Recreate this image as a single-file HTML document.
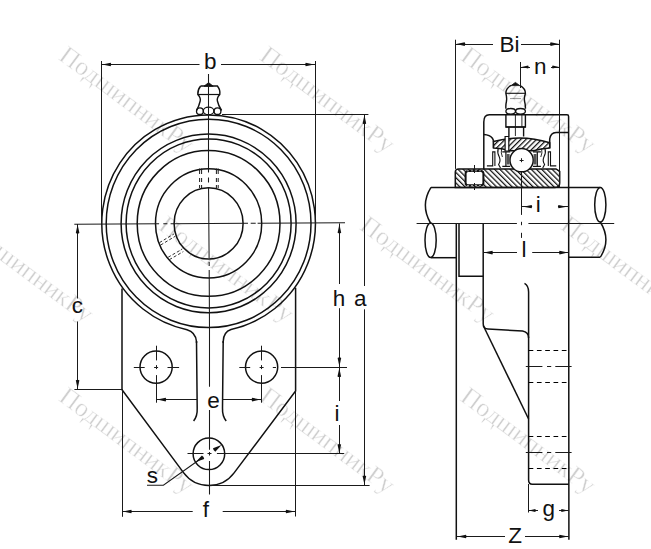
<!DOCTYPE html>
<html><head><meta charset="utf-8">
<style>
html,body{margin:0;padding:0;background:#fff;}
svg{display:block;position:absolute;left:0;top:0;}
.wm{font-family:"Liberation Serif",serif;font-size:26px;fill:#cfcfcf;stroke:#fff;stroke-width:0.45px;}
.t{font-family:"Liberation Sans",sans-serif;font-size:22.5px;fill:#111;}
</style></head>
<body>

<svg width="651" height="549" viewBox="0 0 651 549">
<defs>
<pattern id="hBack" patternUnits="userSpaceOnUse" width="3.7" height="3.7" patternTransform="rotate(-45)">
<rect width="3.7" height="3.7" fill="#fff"/><rect x="0" y="0" width="1.25" height="3.7" fill="#111"/>
</pattern>
<pattern id="hFwd" patternUnits="userSpaceOnUse" width="3.7" height="3.7" patternTransform="rotate(45)">
<rect width="3.7" height="3.7" fill="#fff"/><rect x="0" y="0" width="1.25" height="3.7" fill="#111"/>
</pattern>
</defs>

<g fill="none" stroke="#111" stroke-width="1.5">
<ellipse cx="208.6" cy="223.4" rx="34.5" ry="35.6"/>
<ellipse cx="208.6" cy="223.4" rx="53.1" ry="54.6"/>
<ellipse cx="208.6" cy="223.4" rx="71.4" ry="72.9"/>
<ellipse cx="208.6" cy="223.4" rx="82.5" ry="84.5"/>
<ellipse cx="208.6" cy="223.4" rx="87.5" ry="89.3"/>
<ellipse cx="208.6" cy="223.4" rx="102.4" ry="104.2"/>
<path d="M196.5 343 L196.5 341.5 Q195.5 332 187.0 329.66 A106.8 108.5 0 1 1 231.0 329.49 Q223.4 332 223.2 341.5 L223.2 343"/>
<path d="M196.5 341 L197.2 408 Q197.6 416 193.6 421"/>
<path d="M223.2 341 L222.5 408 Q222.2 416 226.2 421"/>
<path d="M122 288.5 L122 389.8 L183.70 472.90 A31.5 31.5 0 0 0 234.10 472.90 L295.6 391 L295.6 287.7"/>
<circle cx="156.1" cy="367.1" r="16.1"/>
<circle cx="261.6" cy="367.1" r="16.1"/>
<circle cx="208.9" cy="453.8" r="15.8"/>
<path d="M200.6 86 L217.4 86 Q220.5 90 219.8 94.5 Q216.6 98 217.4 101 Q218.5 106 221.6 110.5" stroke-width="1.4"/>
<path d="M200.6 86 Q197.5 90 197.8 94.5 Q201 98 200.2 101 Q199 106 196.6 110.5" stroke-width="1.4"/>
<line x1="197.8" y1="94.5" x2="219.8" y2="94.5" stroke-width="1.2"/>
<ellipse cx="199.9" cy="111.2" rx="3.4" ry="3.3" stroke-width="1.3"/>
<ellipse cx="208.6" cy="110.9" rx="5.3" ry="3.8" stroke-width="1.3"/>
<ellipse cx="217.5" cy="111.2" rx="3.4" ry="3.3" stroke-width="1.3"/>
<path d="M204 86.2 L208.6 82.6 L213.2 86.2 Z" fill="#111" stroke-width="0.8"/>

</g>
<g fill="none" stroke="#1a1a1a" stroke-width="1.05">
<line x1="207.5" y1="453.5" x2="211.5" y2="453.5"/>
<line x1="133.8" y1="367.5" x2="144.7" y2="367.5"/>
<line x1="154.1" y1="367.5" x2="158.1" y2="367.5"/>
<line x1="167.5" y1="367.5" x2="179.1" y2="367.5"/>
<line x1="156.5" y1="345.7" x2="156.5" y2="360.4"/>
<line x1="156.5" y1="365.1" x2="156.5" y2="369.1"/>
<line x1="156.5" y1="375.1" x2="156.5" y2="402.7"/>
<line x1="239.3" y1="367.5" x2="250.2" y2="367.5"/>
<line x1="259.6" y1="367.5" x2="263.6" y2="367.5"/>
<line x1="272.8" y1="367.5" x2="276" y2="367.5"/>
<line x1="281" y1="367.5" x2="347" y2="367.5"/>
<line x1="261.5" y1="345.7" x2="261.5" y2="360.4"/>
<line x1="261.5" y1="365.1" x2="261.5" y2="369.1"/>
<line x1="261.5" y1="375.1" x2="261.5" y2="402.7"/>
<line x1="187.5" y1="453.5" x2="203.5" y2="453.5"/>
<line x1="216.9" y1="453.5" x2="344.2" y2="453.5"/>
<line x1="101.5" y1="61" x2="101.5" y2="224"/>
<line x1="315.5" y1="61" x2="315.5" y2="223.8"/>
<line x1="222" y1="114.5" x2="368.4" y2="114.5"/>
<line x1="74.4" y1="389.5" x2="122" y2="389.5"/>
<line x1="208.9" y1="485.5" x2="369.6" y2="485.5"/>
<line x1="122.5" y1="389" x2="122.5" y2="516.8"/>
<line x1="295.5" y1="391" x2="295.5" y2="516.5"/>
<line x1="101.3" y1="64.5" x2="199.5" y2="64.5"/>
<line x1="221" y1="64.5" x2="315.1" y2="64.5"/>
<line x1="77.5" y1="224" x2="77.5" y2="298.5"/>
<line x1="77.5" y1="321.5" x2="77.5" y2="389.5"/>
<line x1="339.5" y1="223.4" x2="339.5" y2="284"/>
<line x1="339.5" y1="308.2" x2="339.5" y2="367.1"/>
<line x1="364.5" y1="114.2" x2="364.5" y2="286"/>
<line x1="364.5" y1="309.3" x2="364.5" y2="485.3"/>
<line x1="339.5" y1="367.1" x2="339.5" y2="401"/>
<line x1="339.5" y1="425" x2="339.5" y2="453.8"/>
<line x1="156.1" y1="399.5" x2="197" y2="399.5"/>
<line x1="222" y1="399.5" x2="261.6" y2="399.5"/>
<line x1="122" y1="511.5" x2="192.7" y2="511.5"/>
<line x1="222.7" y1="511.5" x2="295.4" y2="511.5"/>
<path d="M208.5 74 L208.5 172.5 M208.5 177.5 L208.5 182.5 M208.55 187 L209.1 258 M209.15 262 L209.2 266 M209.2 270 L209.5 330 L209.5 386.8 M209.5 410 L209.5 449.7 M209.5 452 L209.5 455.6 M209.5 461 L209.5 494.5"/>
<line x1="74.3" y1="224.20" x2="159.1" y2="223.76"/>
<line x1="163.3" y1="223.74" x2="167.4" y2="223.72"/>
<line x1="170.6" y1="223.70" x2="248" y2="223.30"/>
<line x1="250.7" y1="223.29" x2="255.7" y2="223.26"/>
<line x1="257.6" y1="223.25" x2="345" y2="222.80"/>
<polyline points="200,459.2 163.4,485.3 147,485.3"/>
<g stroke-dasharray="3 2" stroke-width="0.9">
<path d="M199.6 168.5 L199.6 174 M199.6 178 L199.6 182 M199.6 185 L199.6 188" stroke-dasharray="none" stroke-width="1"/>
<path d="M201.6 168.5 L201.6 174 M201.6 178 L201.6 182 M201.6 185 L201.6 188" stroke-dasharray="none" stroke-width="1"/>
<path d="M216.4 168.5 L216.4 174 M216.4 178 L216.4 182 M216.4 185 L216.4 188" stroke-dasharray="none" stroke-width="1"/>
<path d="M218.2 168.5 L218.2 174 M218.2 178 L218.2 182 M218.2 185 L218.2 188" stroke-dasharray="none" stroke-width="1"/>
<line x1="159.5" y1="242.6" x2="174" y2="233.9"/><line x1="160.7" y1="245" x2="175.2" y2="236.3"/>
<line x1="168.2" y1="257.2" x2="182.1" y2="249.2"/><line x1="169.4" y1="259.6" x2="183.3" y2="251.6"/>
</g>
</g>
<g fill="#111" stroke="none">
<path d="M0 0 L-8.50 -1.80 Q-9.70 0 -8.50 1.80 Z" transform="translate(102.20,64.50) rotate(180)"/>
<path d="M0 0 L-8.50 -1.80 Q-9.70 0 -8.50 1.80 Z" transform="translate(314.20,64.50) rotate(0)"/>
<path d="M0 0 L-8.50 -1.80 Q-9.70 0 -8.50 1.80 Z" transform="translate(77.60,224.60) rotate(-90)"/>
<path d="M0 0 L-8.50 -1.80 Q-9.70 0 -8.50 1.80 Z" transform="translate(77.60,388.80) rotate(90)"/>
<path d="M0 0 L-8.50 -1.80 Q-9.70 0 -8.50 1.80 Z" transform="translate(339.40,224.20) rotate(-90)"/>
<path d="M0 0 L-8.50 -1.80 Q-9.70 0 -8.50 1.80 Z" transform="translate(339.40,366.40) rotate(90)"/>
<path d="M0 0 L-8.50 -1.80 Q-9.70 0 -8.50 1.80 Z" transform="translate(339.30,367.90) rotate(-90)"/>
<path d="M0 0 L-8.50 -1.80 Q-9.70 0 -8.50 1.80 Z" transform="translate(339.30,453.00) rotate(90)"/>
<path d="M0 0 L-8.50 -1.80 Q-9.70 0 -8.50 1.80 Z" transform="translate(364.40,115.00) rotate(-90)"/>
<path d="M0 0 L-8.50 -1.80 Q-9.70 0 -8.50 1.80 Z" transform="translate(364.40,484.50) rotate(90)"/>
<path d="M0 0 L-8.50 -1.80 Q-9.70 0 -8.50 1.80 Z" transform="translate(157.20,399.60) rotate(180)"/>
<path d="M0 0 L-8.50 -1.80 Q-9.70 0 -8.50 1.80 Z" transform="translate(260.70,399.60) rotate(0)"/>
<path d="M0 0 L-8.50 -1.80 Q-9.70 0 -8.50 1.80 Z" transform="translate(122.80,511.50) rotate(180)"/>
<path d="M0 0 L-8.50 -1.80 Q-9.70 0 -8.50 1.80 Z" transform="translate(294.60,511.50) rotate(0)"/>
<path d="M0 0 L-8.80 -2.10 Q-10.00 0 -8.80 2.10 Z" transform="translate(221.50,445.10) rotate(-33.381475647205356)"/>
<path d="M0 0 L-8.80 -2.10 Q-10.00 0 -8.80 2.10 Z" transform="translate(195.70,462.10) rotate(146.61852435279465)"/>
</g>
<g class="t">
<text x="204.1" y="69.35">b</text>
<text x="71.7" y="312.8">c</text>
<text x="332.7" y="306.4">h</text>
<text x="354.1" y="305.8">a</text>
<text x="334.6" y="420.8">i</text>
<text x="207.2" y="407.55">e</text>
<text x="146.65" y="483">s</text>
<text x="202.65" y="517.1">f</text>
</g>
<g fill="none" stroke="#111" stroke-width="1.5">
<path d="M455.3 187.4 L455.3 172 Q455.3 168.9 458.8 168.9 L556 168.9 L559.7 171.3 L559.7 183 Q559.7 187.4 555 187.4 Z" fill="url(#hBack)"/>
<rect x="465.6" y="171.1" width="17.8" height="14.1" rx="2.5" fill="#fff" stroke-width="2"/>
<path d="M467 170.8 L482 170.8 M467 185.5 L482 185.5" stroke="#fff" stroke-width="0.6" stroke-dasharray="2 2"/>
<path d="M483.8 168.9 L483.8 122 Q483.8 114.8 489.3 114.8 L567 114.8 Q568.6 114.8 568.6 116.5 L568.9 539.7"/>
<path d="M483.8 134.4 Q490 134.8 492.4 138.2 Q493.5 140 493.5 142 L493.5 148"/>
<path d="M549.7 148 L549.7 139 Q550.5 132.6 556.1 132.4 L568.4 132.4"/>
<path d="M493.5 141.5 Q521.6 134 549.7 142.8 L549.7 148 Q541 148.5 533.5 150.8 L509.7 150.8 Q502 148 493.5 148 Z" fill="url(#hFwd)"/>
<path d="M505.1 136.5 L505.1 151 L508.8 151 L508.8 136.5 Z" fill="#fff" stroke-width="1.2"/>
<circle cx="521.6" cy="160.2" r="11.65" fill="#fff"/>
<path d="M431 187.4 L600.2 187.4"/>
<path d="M431 187.4 Q420 205 430.5 223"/>
<ellipse cx="430.6" cy="240.3" rx="5.6" ry="17.2"/>
<path d="M431 257.7 L456 257.7"/>
<ellipse cx="600.3" cy="204.8" rx="5.6" ry="17.3"/>
<path d="M600.3 222 Q611.5 240 600.3 257.2"/>
<path d="M568.8 257.2 L600.3 257.2"/>
<path d="M456.3 223 L456.3 539.7"/>
<path d="M459 223 L459 276.3 L483.2 276.3"/>
<path d="M483.2 223 L483.2 324 Q483.5 328.8 488 329 L522.5 331 Q528.6 332 528.6 338 L528.6 480 Q528.6 484.2 532.3 484.2 L568.9 484.2"/>
<path d="M524.5 283.3 Q528.6 285.5 528.6 292 L528.6 338"/>
<path d="M483.2 325.5 L528.6 419"/>
<path d="M511 85.4 Q505.6 88.5 505.9 93.5 Q507 97.5 506.5 101 Q505.6 105 505.9 108.7 M519.8 85.4 Q525.5 88.5 525.4 93.5 Q524 97.5 524.5 101 Q525.6 105 525.4 108.7" stroke-width="1.4"/>
<line x1="505.9" y1="93.3" x2="525.4" y2="93.3" stroke-width="1.1"/>
<line x1="510" y1="98.6" x2="521" y2="98.6" stroke-width="0.8" stroke="#777"/>
<path d="M511 85.6 L515.4 82.4 L519.8 85.6 Z" fill="#111" stroke-width="0.8"/>
<ellipse cx="510.7" cy="111.3" rx="4.8" ry="2.8" stroke-width="1.3"/>
<ellipse cx="520.5" cy="111.3" rx="4.9" ry="2.8" stroke-width="1.3"/>
<path d="M505.9 114 L505.9 127 L525.4 127 L525.4 114" stroke-width="1.4"/>
<path d="M508.9 127 L508.9 136.5 M523.6 127 L523.6 136.5" stroke-width="1.4"/>
<line x1="505.9" y1="127" x2="525.4" y2="127" stroke-width="1.2"/>
<line x1="515.4" y1="114" x2="515.4" y2="136" stroke-width="0.9"/>
<line x1="521.9" y1="114" x2="521.9" y2="127" stroke-width="0.9"/>

<path d="M486.9 165.9 L492.7 165.9 L492.7 151.9 L494.9 151.9 L494.9 165.9" stroke-width="1.1"/><path d="M498.2 148.5 Q497 153 499.3 157 Q501 161 498.6 164.5 L500.5 168" stroke-width="1.1"/><path d="M501.6 148.5 Q500.6 153 502.4 157" stroke-width="0.9"/><path d="M502.3 151.9 L510.2 151.9 M502.3 166.4 L510.2 166.4 M505.9 151.9 L505.9 166.4" stroke-width="1.2"/><rect x="506.6" y="154" width="3" height="10.5" fill="#555" stroke="none"/>
<g transform="translate(1043.2,0) scale(-1,1)"><path d="M486.9 165.9 L492.7 165.9 L492.7 151.9 L494.9 151.9 L494.9 165.9" stroke-width="1.1"/><path d="M498.2 148.5 Q497 153 499.3 157 Q501 161 498.6 164.5 L500.5 168" stroke-width="1.1"/><path d="M501.6 148.5 Q500.6 153 502.4 157" stroke-width="0.9"/><path d="M502.3 151.9 L510.2 151.9 M502.3 166.4 L510.2 166.4 M505.9 151.9 L505.9 166.4" stroke-width="1.2"/><rect x="506.6" y="154" width="3" height="10.5" fill="#555" stroke="none"/></g>
</g>
<g fill="none" stroke="#1a1a1a" stroke-width="1.05">
<line x1="455.5" y1="39.7" x2="455.5" y2="168.9"/>
<line x1="559.5" y1="39.7" x2="559.5" y2="187.4"/>
<line x1="455.5" y1="44.5" x2="493" y2="44.5"/>
<line x1="521" y1="44.5" x2="559.8" y2="44.5"/>
<line x1="520.5" y1="62" x2="520.5" y2="88"/>
<line x1="520.9" y1="67.5" x2="530" y2="67.5"/>
<line x1="551" y1="67.5" x2="559.8" y2="67.5"/>
<line x1="521.5" y1="172" x2="521.5" y2="214.9"/>
<line x1="519.6" y1="160.5" x2="523.6" y2="160.5"/>
<line x1="521.5" y1="158.2" x2="521.5" y2="162.2"/>
<line x1="521.5" y1="221.8" x2="521.5" y2="225.2"/>
<line x1="521.5" y1="232.8" x2="521.5" y2="237.9"/>
<line x1="416.6" y1="223.5" x2="516.9" y2="223.5"/>
<line x1="528.4" y1="223.5" x2="614.2" y2="223.5"/>
<line x1="474.5" y1="165" x2="474.5" y2="173"/>
<line x1="474.5" y1="183" x2="474.5" y2="190"/>
<line x1="521.4" y1="206.5" x2="531.6" y2="206.5"/>
<line x1="558" y1="206.5" x2="568.7" y2="206.5"/>
<line x1="483.2" y1="252.5" x2="517" y2="252.5"/>
<line x1="532.2" y1="252.5" x2="568.7" y2="252.5"/>
<line x1="528.5" y1="484" x2="528.5" y2="512.5"/>
<line x1="528.1" y1="510.5" x2="538" y2="510.5"/>
<line x1="559" y1="510.5" x2="568.7" y2="510.5"/>
<line x1="456.8" y1="536.5" x2="505" y2="536.5"/>
<line x1="525" y1="536.5" x2="568.7" y2="536.5"/>
<g stroke-dasharray="4.7 3.6" stroke="#000" stroke-width="1.1">
<line x1="528.6" y1="350.5" x2="568.7" y2="350.5"/>
<line x1="528.6" y1="382.5" x2="568.7" y2="382.5"/>
<line x1="528.6" y1="436.5" x2="568.7" y2="436.5"/>
<line x1="528.6" y1="468.5" x2="568.7" y2="468.5"/>
</g><g stroke-dasharray="16.6 4.6 4.2 4.1 40">
<line x1="525.8" y1="366.5" x2="571.6" y2="366.5"/>
<line x1="525.8" y1="452.5" x2="571.6" y2="452.5"/>
</g>
</g>
<g fill="#111" stroke="none">
<path d="M0 0 L-8.50 -1.80 Q-9.70 0 -8.50 1.80 Z" transform="translate(456.20,44.10) rotate(180)"/>
<path d="M0 0 L-8.50 -1.80 Q-9.70 0 -8.50 1.80 Z" transform="translate(559.10,44.10) rotate(0)"/>
<path d="M0 0 L-6.50 -1.50 Q-7.70 0 -6.50 1.50 Z" transform="translate(521.60,67.00) rotate(180)"/>
<path d="M0 0 L-6.50 -1.50 Q-7.70 0 -6.50 1.50 Z" transform="translate(559.10,67.00) rotate(0)"/>
<path d="M0 0 L-8.30 -1.60 Q-9.50 0 -8.30 1.60 Z" transform="translate(523.30,206.70) rotate(180)"/>
<path d="M0 0 L-8.30 -1.60 Q-9.50 0 -8.30 1.60 Z" transform="translate(566.80,206.70) rotate(0)"/>
<path d="M0 0 L-8.50 -1.80 Q-9.70 0 -8.50 1.80 Z" transform="translate(483.90,252.60) rotate(180)"/>
<path d="M0 0 L-8.50 -1.80 Q-9.70 0 -8.50 1.80 Z" transform="translate(568.00,252.60) rotate(0)"/>
<path d="M0 0 L-6.50 -1.50 Q-7.70 0 -6.50 1.50 Z" transform="translate(528.80,510.40) rotate(180)"/>
<path d="M0 0 L-6.50 -1.50 Q-7.70 0 -6.50 1.50 Z" transform="translate(568.00,510.40) rotate(0)"/>
<path d="M0 0 L-8.50 -1.80 Q-9.70 0 -8.50 1.80 Z" transform="translate(457.50,536.50) rotate(180)"/>
<path d="M0 0 L-8.50 -1.80 Q-9.70 0 -8.50 1.80 Z" transform="translate(568.00,536.50) rotate(0)"/>
</g>
<g class="t">
<text x="499.4" y="51.75">Bi</text>
<text x="533.9" y="74.2">n</text>
<text x="535.75" y="212.35">i</text>
<text x="521.45" y="257.35">l</text>
<text x="542.6" y="516.45">g</text>
<text x="508.3" y="542.85">Z</text>
</g>
</svg>
<svg width="651" height="549" viewBox="0 0 651 549" style="will-change:transform;mix-blend-mode:multiply"><g class="wm"><text transform="translate(57.6,58.7) rotate(36.5)">ПодшипникРу</text><text transform="translate(258.2,58.7) rotate(36.5)">ПодшипникРу</text><text transform="translate(459.2,59) rotate(36.5)">ПодшипникРу</text><text transform="translate(-43,228.4) rotate(36.5)">ПодшипникРу</text><text transform="translate(157.3,228.4) rotate(36.5)">ПодшипникРу</text><text transform="translate(358.3,228.5) rotate(36.5)">ПодшипникРу</text><text transform="translate(559.2,228.3) rotate(36.5)">ПодшипникРу</text><text transform="translate(57.4,399.8) rotate(36.5)">ПодшипникРу</text><text transform="translate(258.2,399.6) rotate(36.5)">ПодшипникРу</text><text transform="translate(459,399.8) rotate(36.5)">ПодшипникРу</text></g></svg>
</body></html>
